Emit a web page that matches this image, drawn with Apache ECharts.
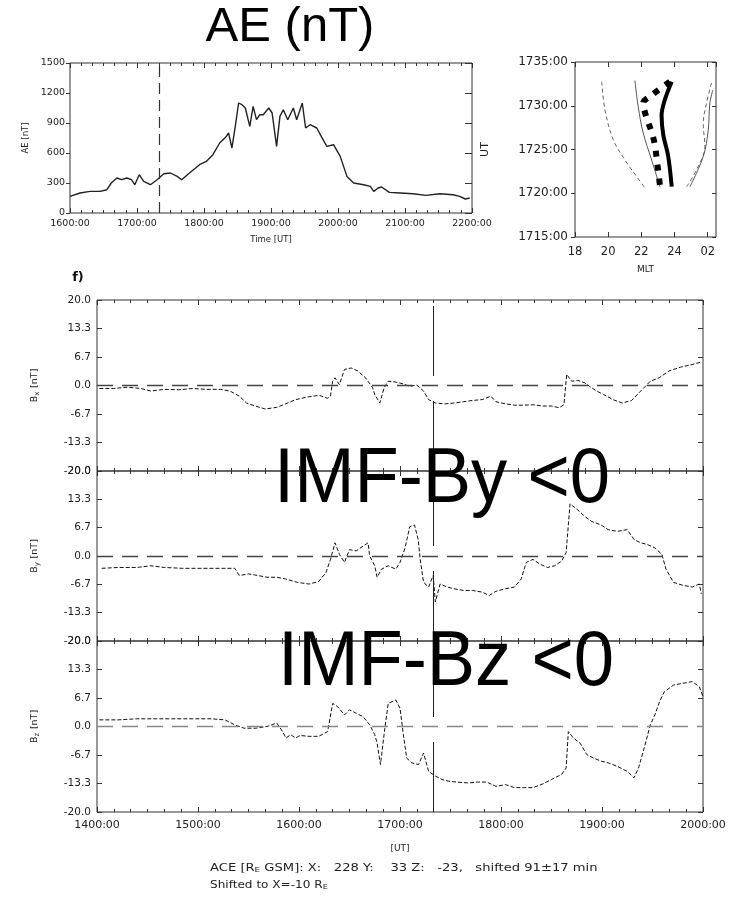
<!DOCTYPE html>
<html><head><meta charset="utf-8">
<script src="https://cdn.jsdelivr.net/npm/echarts@6/dist/echarts.min.js"></script>
<style>html,body{margin:0;padding:0;background:#fff}#c{width:733px;height:897px}</style>
</head><body><div id="c"></div><script>
// ---------- DATA ----------
// AE index: [minutes after 16:00 UT, AE nT]
const aeSamples = [[0,166],[9,200],[18,216],[27,216],[33,233],[37,300],[42,350],[46,333],[51,350],[55,333],[58,283],[62,383],[66,316],[72,283],[78,333],[84,393],[90,400],[96,366],[100,333],[107,400],[116,483],[122,516],[128,583],[134,700],[140,766],[142,800],[145,650],[148,866],[151,1100],[154,1083],[157,1050],[161,866],[164,1066],[167,933],[170,983],[173,983],[178,1050],[181,1000],[185,666],[188,966],[191,1033],[195,933],[200,1050],[203,933],[208,1100],[211,850],[215,883],[221,850],[225,766],[230,666],[236,683],[242,566],[248,366],[254,300],[263,283],[269,266],[272,216],[276,250],[279,260],[286,206],[296,200],[307,193],[319,176],[331,193],[343,183],[349,166],[354,140],[358,150]];
const aeTickLabelsX = ['1600:00','1700:00','1800:00','1900:00','2000:00','2100:00','2200:00'];
const aeTickLabelsY = ['0','300','600','900','1200','1500'];
const aeMarkerMin = 80; // 17:20 UT

// MLT panel curves: [MLT hour (24+ = after midnight), UT as HHMM]
const mltLeftDashed = [[19.61,1732.75],[19.81,1729.5],[20.31,1726.1],[21.01,1723.8],[21.72,1721.9],[22.22,1720.6]];
const mltThinSolid = [[21.61,1732.9],[21.81,1729.9],[22.11,1726.9],[22.62,1723.8],[23.12,1720.75]];
const mltDotted = [[23.72,1732.75],[22.62,1731.2],[22.11,1730.3],[22.32,1728.6],[22.62,1727.0],[22.82,1725.5],[22.92,1724.0],[23.02,1722.5],[23.12,1720.9]];
const mltThickSolid = [[23.83,1732.75],[23.42,1730.7],[23.22,1728.9],[23.32,1726.7],[23.62,1724.2],[23.83,1720.75]];
const mltRightDashed = [[24.73,1720.75],[25.33,1722.7],[25.83,1725.3],[25.73,1728.0],[25.93,1730.3],[26.23,1732.6]];
const mltRightSolid = [[24.93,1720.75],[25.73,1724.2],[26.03,1727.2],[26.13,1730.3],[26.31,1731.8]];
const mltTickLabelsX = ['18','20','22','24','02'];

// IMF components: [minutes after 14:00 UT, nT]
const bxSamples = [[1.4,-0.7],[9.7,-0.7],[18,-0.4],[26,-0.7],[32,-1.3],[40,-0.9],[48.5,-1.0],[57,-0.7],[65,-0.9],[73.5,-0.9],[79,-1.3],[84.6,-2.5],[88.8,-4.1],[94,-4.8],[100,-5.5],[106.8,-5.1],[112,-4.3],[118,-3.3],[125,-2.7],[132,-2.3],[137,-3.0],[138.7,-2.5],[140,1.0],[141.4,1.8],[144,0.2],[147,3.75],[151,4.1],[155,3.4],[159.5,1.8],[163.6,-0.4],[165,-2.1],[168,-4.1],[170.6,-0.5],[173,1.0],[177.5,0.8],[181.7,0.4],[185.8,-0.2],[190,0.1],[194,-1.3],[197,-3.3],[201,-4.1],[206.6,-4.3],[212,-4.1],[217.7,-3.8],[223,-3.5],[228.8,-3.3],[234,-2.5],[237,-3.8],[242.7,-4.3],[248,-4.6],[253.8,-4.6],[259,-4.5],[265,-4.8],[270,-4.8],[274.6,-5.2],[277.4,-4.5],[279,2.6],[282,1.0],[285.7,1.2],[289.8,0.6],[292.6,-0.2],[296.8,-1.3],[301,-2.1],[306.5,-3.3],[312,-4.1],[317.6,-3.5],[323,-1.3],[328.7,1.0],[334,1.8],[339.8,3.4],[346.7,4.3],[353.6,4.9],[359,5.5]];
const bySamples = [[2.8,-2.9],[12.5,-2.7],[23.6,-2.7],[31.9,-2.3],[40,-2.7],[51,-2.9],[62.4,-2.9],[73.5,-2.9],[81.8,-2.9],[84.6,-4.6],[90,-4.2],[95.7,-4.6],[101,-5.0],[106.8,-5.0],[112,-5.4],[119,-6.2],[126,-6.6],[131.7,-6.0],[136,-3.9],[138.7,-0.8],[141.4,3.1],[144,0.4],[147,-1.5],[150,1.5],[154,1.2],[158,2.3],[161,3.1],[162,0],[165,-2.3],[166.4,-5.0],[169,-3.1],[173,-2.3],[177.5,-3.1],[180,-1.5],[183,1.9],[185.8,6.9],[188.6,7.3],[190.8,3.9],[192,-0.8],[194,-6.2],[197,-7.3],[199.7,-4.6],[201,-10.8],[203.8,-6.6],[208,-7.3],[212,-7.7],[217.7,-8.1],[223,-8.1],[228.8,-8.5],[233,-9.3],[237,-8.3],[242.7,-7.7],[248,-7.3],[252,-5.4],[255,-1.5],[259,-0.8],[263,-1.9],[267.6,-2.7],[271.8,-2.3],[276,-1.2],[278.7,0.8],[281,12.3],[285.7,10.8],[289.8,9.3],[294,8.1],[299.5,7.3],[303.7,6.2],[309,5.8],[315,6.2],[319,3.9],[323,3.1],[327,2.7],[331.4,1.9],[335.6,0.4],[338,-3.1],[342.5,-6.2],[348,-6.9],[353.6,-7.3],[357.8,-6.6],[359,-8.9]];
const bzSamples = [[1.4,1.55],[12.5,1.55],[23.6,1.8],[34.7,1.8],[45.8,1.8],[57,1.8],[68,1.8],[76,1.55],[81.8,0.4],[87.4,-0.4],[94.3,-0.4],[101,0],[106.8,0.8],[109.6,-0.8],[112.3,-2.7],[115,-1.9],[118,-2.7],[120.6,-2.1],[126,-2.3],[131.7,-2.3],[137,-1.2],[140,5.4],[142.8,4.7],[147,2.7],[150,3.9],[154,3.1],[158,2.3],[162,0.4],[165,-1.9],[166.4,-3.9],[168.4,-8.9],[171,-0.4],[173,5.4],[177.5,6.2],[180,4.3],[182,-1.9],[184,-7.4],[187,-8.5],[191,-8.9],[194,-6.2],[197,-10.5],[201,-11.6],[205,-12.4],[209,-12.8],[213.6,-13.0],[220.5,-13.2],[226,-13.0],[231.6,-13.0],[237,-14.0],[242.7,-13.6],[248,-14.3],[253.8,-14.3],[259,-14.3],[265,-13.4],[270,-12.4],[276,-11.2],[278.7,-9.7],[280,-1.2],[283,-2.7],[287,-3.9],[291,-6.6],[295,-7.4],[299.5,-8.1],[303.7,-8.5],[309,-9.3],[315,-10.5],[319,-12.0],[321.7,-9.7],[325.3,-4.7],[328.7,0.4],[331.4,2.7],[334.2,5.8],[337,8.1],[342.5,9.7],[348,10.1],[353.6,10.5],[357.8,9.3],[360,7.0]];
const imfTickLabelsX = ['1400:00','1500:00','1600:00','1700:00','1800:00','1900:00','2000:00'];
const imfTickLabelsY = ['-20.0','-13.3','-6.7','0.0','6.7','13.3','20.0'];
const imfMarkerMin = 200; // 17:20 UT

// ---------- CHART ----------
const FF = 'DejaVu Sans';
const INK = '#222';
const chart = echarts.init(document.getElementById('c'), null, {renderer:'canvas'});

const gridStyle = {show:true, borderColor:'#333', borderWidth:1, backgroundColor:'transparent', containLabel:false};
const grids = [
  Object.assign({left:70, top:63, width:402, height:150}, gridStyle),
  Object.assign({left:575, top:62, width:141, height:175}, gridStyle),
  Object.assign({left:97, top:300, width:606, height:171}, gridStyle),
  Object.assign({left:97, top:471, width:606, height:170}, gridStyle),
  Object.assign({left:97, top:641, width:606, height:171}, gridStyle)
];

function axisBase(gi, min, max, interval, extra){
  return Object.assign({
    gridIndex:gi, type:'value', min:min, max:max, interval:interval,
    axisLine:{show:false, onZero:false}, splitLine:{show:false},
    axisTick:{show:true, inside:true, length:5, lineStyle:{color:'#333'}},
    axisLabel:{show:false}
  }, extra||{});
}
const lbl = (size, fmt, extra) => Object.assign({show:true, fontSize:size, fontFamily:FF, color:INK, formatter:fmt}, extra||{});
const hourIdx = v => Math.round(v/60);
const imfYFmt = v => imfTickLabelsY[Math.round((v+20)/(20/3))];
const minor6 = {show:true, splitNumber:6, length:3, lineStyle:{color:'#333'}};

const xAxis = [
  axisBase(0,0,360,60,{minorTick:minor6, axisLabel:lbl(9.5, v=>aeTickLabelsX[hourIdx(v)], {margin:6}),
    name:'Time [UT]', nameLocation:'middle', nameGap:22, nameTextStyle:{fontSize:8.5, fontFamily:FF, color:INK}}),
  axisBase(0,0,360,60,{position:'top', minorTick:minor6}),
  axisBase(1,18,26.5,2,{axisLabel:lbl(11.5, v=>mltTickLabelsX[Math.round((v-18)/2)], {showMaxLabel:false, margin:9}),
    name:'MLT', nameLocation:'middle', nameGap:28, nameTextStyle:{fontSize:9, fontFamily:FF, color:INK}}),
  axisBase(1,18,26.5,2,{position:'top'}),
  axisBase(2,0,360,60,{minorTick:minor6}),
  axisBase(2,0,360,60,{position:'top', minorTick:minor6}),
  axisBase(3,0,360,60,{minorTick:minor6}),
  axisBase(3,0,360,60,{position:'top', minorTick:minor6}),
  axisBase(4,0,360,60,{minorTick:minor6, axisLabel:lbl(11, v=>imfTickLabelsX[hourIdx(v)], {margin:8}),
    name:'[UT]', nameLocation:'middle', nameGap:32, nameTextStyle:{fontSize:9, fontFamily:FF, color:INK}}),
  axisBase(4,0,360,60,{position:'top', minorTick:minor6})
];

const bName = sub => ({
  name:'{m|B}{s|' + sub + '} {m|[nT]}', nameLocation:'middle', nameGap:56,
  nameTextStyle:{fontFamily:FF, color:INK, rich:{m:{fontSize:9.5, fontFamily:FF, color:INK}, s:{fontSize:7, fontFamily:FF, color:INK, verticalAlign:'bottom', padding:[6,0,0,0]}}}
});
const yAxis = [
  axisBase(0,0,1500,300,{axisTick:{show:true, inside:false, length:4, lineStyle:{color:'#333'}},
    axisLabel:lbl(9.5, v=>aeTickLabelsY[Math.round(v/300)], {margin:5}),
    name:'AE [nT]', nameLocation:'middle', nameGap:40, nameTextStyle:{fontSize:8.5, fontFamily:FF, color:INK}}),
  axisBase(0,0,1500,300,{position:'right', axisTick:{show:true, inside:true, length:7, lineStyle:{color:'#333'}}}),
  axisBase(1,1715,1735,5,{axisTick:{show:true, inside:false, length:4, lineStyle:{color:'#333'}},
    axisLabel:lbl(12, v=>v+':00', {margin:7}),
    name:'UT', nameLocation:'middle', nameGap:84, nameTextStyle:{fontSize:11, fontFamily:FF, color:INK}}),
  axisBase(1,1715,1735,5,{position:'right', axisTick:{show:true, inside:true, length:4, lineStyle:{color:'#333'}}}),
  axisBase(2,-20,20,20/3,Object.assign({axisLabel:lbl(10.5, imfYFmt, {margin:6})}, bName('x'))),
  axisBase(2,-20,20,20/3,{position:'right'}),
  axisBase(3,-20,20,20/3,Object.assign({axisLabel:lbl(10.5, imfYFmt, {margin:6})}, bName('y'))),
  axisBase(3,-20,20,20/3,{position:'right'}),
  axisBase(4,-20,20,20/3,Object.assign({axisLabel:lbl(10.5, imfYFmt, {margin:6})}, bName('z'))),
  axisBase(4,-20,20,20/3,{position:'right'})
];

function imfSeries(data, xi, yi, zeroColor){
  return {type:'line', xAxisIndex:xi, yAxisIndex:yi, data:data, symbol:'none', silent:true,
    lineStyle:{color:'#111', width:1, type:[4,2]},
    markLine:{silent:true, symbol:['none','none'], label:{show:false}, animation:false,
      data:[
        {yAxis:0, lineStyle:{type:[16,9], color:zeroColor, width:1.3}},
        {xAxis:imfMarkerMin, lineStyle:{type:[70,25], color:'#222', width:1}}
      ]}
  };
}
function mltSeries(data, style){
  return {type:'line', xAxisIndex:2, yAxisIndex:2, data:data, symbol:'none', silent:true, smooth:0.35, lineStyle:style};
}

const series = [
  {type:'line', xAxisIndex:0, yAxisIndex:0, data:aeSamples, symbol:'none', silent:true,
    lineStyle:{color:'#222', width:1.4},
    markLine:{silent:true, symbol:['none','none'], label:{show:false}, animation:false,
      data:[{xAxis:aeMarkerMin, lineStyle:{type:[11,6], color:'#333', width:1.2}}]}},
  mltSeries(mltLeftDashed, {color:'#666', width:1, type:[4,3]}),
  mltSeries(mltThinSolid, {color:'#555', width:1}),
  mltSeries(mltDotted, {color:'#000', width:6, type:[6,8], cap:'butt'}),
  mltSeries(mltThickSolid, {color:'#000', width:4}),
  mltSeries(mltRightDashed, {color:'#666', width:1, type:[4,3]}),
  mltSeries(mltRightSolid, {color:'#555', width:1}),
  imfSeries(bxSamples, 4, 4, '#444'),
  imfSeries(bySamples, 6, 6, '#444'),
  imfSeries(bzSamples, 8, 8, '#888')
];

const big = (txt, x, y, size) => ({type:'text', x:x, y:y, z:100, silent:true,
  style:{text:txt, fontSize:size, fontFamily:'Liberation Sans', fill:'#000', align:'center', verticalAlign:'middle'}});
const richSub = {t:{fontSize:10.5, fontFamily:FF, fill:INK}, s:{fontSize:7, fontFamily:FF, fill:INK, verticalAlign:'bottom', padding:[5,0,0,0]}};

const graphic = [
  big('AE (nT)', 290, 27, 49),
  {type:'text', x:78, y:278, z:100, style:{text:'f)', fontSize:13, fontWeight:'bold', fontFamily:FF, fill:'#111', align:'center', verticalAlign:'middle'}},
  Object.assign(big('IMF-By <0', 442, 481, 77), {scaleX:0.94}),
  Object.assign(big('IMF-Bz <0', 446, 664, 77), {scaleX:0.94}),
  {type:'text', x:210, y:868, z:100, scaleX:1.25, style:{
    text:'{t|ACE [R}{s|E}{t| GSM]: X:   228 Y:    33 Z:   -23,   shifted 91±17 min}',
    fill:INK, verticalAlign:'middle', rich:richSub}},
  {type:'text', x:210, y:885, z:100, scaleX:1.15, style:{
    text:'{t|Shifted to X=-10 R}{s|E}',
    fill:INK, verticalAlign:'middle', rich:richSub}}
];

chart.setOption({
  animation:false,
  backgroundColor:'#fff',
  grid:grids, xAxis:xAxis, yAxis:yAxis, series:series, graphic:graphic
});
</script></body></html>
